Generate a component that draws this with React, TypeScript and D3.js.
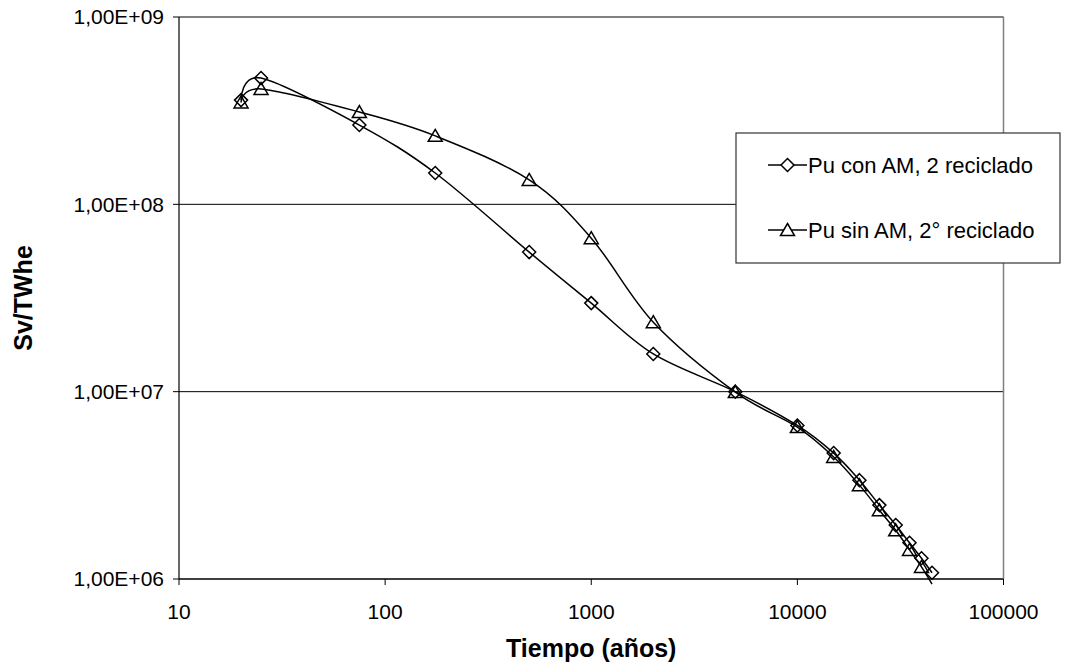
import React from "react";
import * as d3 from "d3";

const years = [20, 25, 75, 175, 500, 1000, 2000, 5000, 10000, 15000, 20000, 25000, 30000, 35000, 40000, 45000];
const puConAM = [3.6e8, 4.72e8, 2.65e8, 1.47e8, 5.56e7, 2.97e7, 1.59e7, 1.0e7, 6.6e6, 4.7e6, 3.37e6, 2.48e6, 1.94e6, 1.56e6, 1.29e6, 1.08e6];
const puSinAM = [3.5e8, 4.13e8, 3.11e8, 2.32e8, 1.35e8, 6.6e7, 2.35e7, 9.95e6, 6.47e6, 4.48e6, 3.17e6, 2.33e6, 1.82e6, 1.43e6, 1.16e6, 9.4e5];
const xTicks = [10, 100, 1000, 10000, 100000];
const xTickLabels = ["10", "100", "1000", "10000", "100000"];
const yTicks = [1e6, 1e7, 1e8, 1e9];
const yTickLabels = ["1,00E+06", "1,00E+07", "1,00E+08", "1,00E+09"];
const seriesNames = ["Pu con AM, 2 reciclado", "Pu sin AM, 2° reciclado"];

const W = 1067, H = 666;
const L = 179, R = 1003.5, T = 17, B = 579;
const FONT = "Arial, 'Liberation Sans', sans-serif";

const diamond = (s: number) => `M0,${-s}L${s},0L0,${s}L${-s},0Z`;
const triangle = `M0,-6.5L7,5.5L-7,5.5Z`;

export default function App() {
  const x = d3.scaleLog().domain([10, 100000]).range([L, R]);
  const y = d3.scaleLog().domain([1e6, 1e9]).range([B, T]);
  const line = d3
    .line<[number, number]>()
    .x((d) => x(d[0]))
    .y((d) => y(d[1]))
    .curve(d3.curveCardinal.tension(0));
  const s1: [number, number][] = years.map((t, i) => [t, puConAM[i]]);
  const s2: [number, number][] = years.map((t, i) => [t, puSinAM[i]]);
  const inRange = (d: [number, number]) => d[1] >= 1e6 && d[1] <= 1e9;

  return (
    <svg width={W} height={H} style={{ position: "absolute", left: 0, top: 0, background: "#fff" }} fontFamily={FONT}>
      <defs>
        <clipPath id="plotclip">
          <rect x={L} y={T} width={R - L} height={B - T + 8} />
        </clipPath>
      </defs>
      <rect x={0} y={0} width={W} height={H} fill="#fff" />
      {yTicks.map((v) => (
        <line key={"g" + v} x1={L} x2={R} y1={y(v)} y2={y(v)} stroke="#000" strokeWidth={1} />
      ))}
      <line x1={L} x2={R} y1={T} y2={T} stroke="#808080" strokeWidth={1.5} />
      <line x1={R} x2={R} y1={T} y2={B} stroke="#808080" strokeWidth={1.5} />
      <line x1={L} x2={L} y1={T} y2={B} stroke="#000" strokeWidth={1.2} />
      <line x1={L} x2={R} y1={B} y2={B} stroke="#000" strokeWidth={1.2} />
      {yTicks.map((v, i) => (
        <g key={"yt" + v}>
          <line x1={L - 6} x2={L} y1={y(v)} y2={y(v)} stroke="#000" />
          <text x={L - 15} y={y(v)} dy="0.35em" textAnchor="end" fontSize={21}>
            {yTickLabels[i]}
          </text>
        </g>
      ))}
      {xTicks.map((v, i) => (
        <g key={"xt" + v}>
          <line x1={x(v)} x2={x(v)} y1={B} y2={B + 6} stroke="#000" />
          <text x={x(v)} y={619} textAnchor="middle" fontSize={21}>
            {xTickLabels[i]}
          </text>
        </g>
      ))}
      <text x={(L + R) / 2} y={657} textAnchor="middle" fontSize={25} fontWeight="bold">
        Tiempo (años)
      </text>
      <text transform={`translate(32,${(T + B) / 2}) rotate(-90)`} textAnchor="middle" fontSize={25} fontWeight="bold">
        Sv/TWhe
      </text>
      <g clipPath="url(#plotclip)">
        <path d={line(s1) || ""} fill="none" stroke="#000" strokeWidth={1.5} />
        <path d={line(s2) || ""} fill="none" stroke="#000" strokeWidth={1.5} />
      </g>
      {s2.filter(inRange).map((d, i) => (
        <path key={"t" + i} d={triangle} transform={`translate(${x(d[0])},${y(d[1])})`} fill="#fff" fillOpacity={0} stroke="#000" strokeWidth={1.5} />
      ))}
      {s1.filter(inRange).map((d, i) => (
        <path key={"d" + i} d={diamond(6.5)} transform={`translate(${x(d[0])},${y(d[1])})`} fill="#fff" fillOpacity={0} stroke="#000" strokeWidth={1.5} />
      ))}
      <rect x={736} y={133} width={324} height={130} fill="#fff" stroke="#333" strokeWidth={1.2} />
      <line x1={768} x2={807} y1={165} y2={165} stroke="#000" strokeWidth={1.5} />
      <path d={diamond(6.5)} transform="translate(787.5,165)" fill="#fff" stroke="#000" strokeWidth={1.5} />
      <text x={808} y={172.5} fontSize={22}>{seriesNames[0]}</text>
      <line x1={768} x2={807} y1={230} y2={230} stroke="#000" strokeWidth={1.5} />
      <path d={triangle} transform="translate(787.5,230)" fill="#fff" stroke="#000" strokeWidth={1.5} />
      <text x={808} y={237.5} fontSize={22}>{seriesNames[1]}</text>
    </svg>
  );
}
